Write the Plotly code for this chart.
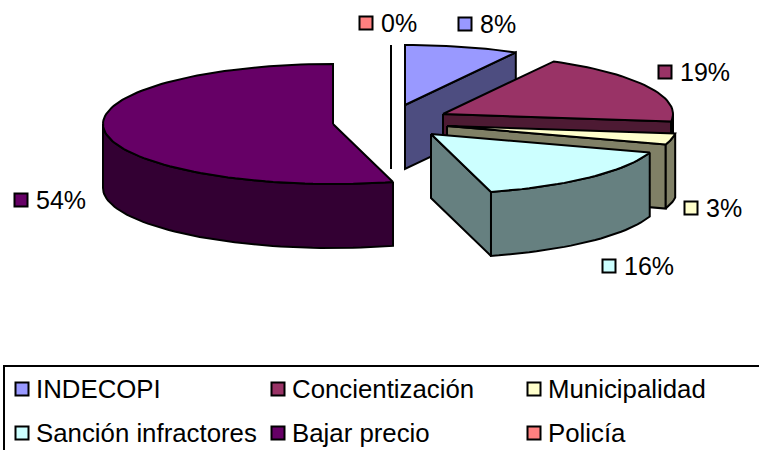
import math
import plotly.graph_objects as go

# ---- data ----
categories = ["INDECOPI", "Concientización", "Municipalidad", "Sanción infractores", "Bajar precio", "Policía"]
percent_values = [8, 19, 3, 15.8, 54.2, 0]

# ---- style ----
top_colors = ["#9999FF", "#993366", "#FFFFCC", "#CCFFFF", "#660066", "#FF8080"]
side_colors = ["#4D4D80", "#4D1A33", "#808066", "#668080", "#330033", "#804040"]
slice_centers = [(405, 105), (443, 114), (447, 126), (431, 134), (333, 124), (391, 105)]
label_anchors = [(465, 24), (665, 72), (691, 208), (609, 266), (21, 200), (366, 23)]
legend_anchors = [(22, 389), (278, 389), (534, 389), (22, 433), (278, 433), (534, 433)]
RX, RY, DEPTH = 230, 60, 64
FONT = "Liberation Sans, Arial, sans-serif"
LABEL_SIZE = 25
LEGEND_SIZE = 25.8
LINE = 2


def rim(center, deg):
    a = math.radians(deg)
    return center[0] + RX * math.sin(a), center[1] - RY * math.cos(a)


def arc(center, a0, a1):
    n = max(2, int(abs(a1 - a0) / 2) + 1)
    return [rim(center, a0 + (a1 - a0) * i / (n - 1)) for i in range(n)]


def add_poly(fig, pts, color, name):
    xs = [p[0] for p in pts] + [pts[0][0]]
    ys = [p[1] for p in pts] + [pts[0][1]]
    fig.add_trace(go.Scatter(x=xs, y=ys, mode="lines", fill="toself", fillcolor=color,
                             line=dict(color="black", width=LINE), name=name,
                             showlegend=False, hoverinfo="name"))


def extrude(pts):
    return pts + [(x, y + DEPTH) for x, y in reversed(pts)]


fig = go.Figure()

total = sum(percent_values)
starts = []
acc = 0
for v in percent_values:
    starts.append(acc / total * 360)
    acc += v

draw_order = [5, 0, 1, 2, 3, 4]
for i in draw_order:
    c = slice_centers[i]
    a0 = starts[i]
    a1 = a0 + percent_values[i] / total * 360
    name = categories[i]
    if -math.sin(math.radians(a0)) > 1e-6:
        add_poly(fig, extrude([c, rim(c, a0)]), side_colors[i], name)
    if math.sin(math.radians(a1)) > -1e-6:
        add_poly(fig, extrude([c, rim(c, a1)]), side_colors[i], name)
    lo, hi = max(a0, 90), min(a1, 270)
    if hi > lo:
        add_poly(fig, extrude(arc(c, lo, hi)), side_colors[i], name)
    add_poly(fig, [c] + arc(c, a0, a1), top_colors[i], name)

# data-label keys and legend keys
key_x = [p[0] for p in label_anchors] + [p[0] for p in legend_anchors]
key_y = [p[1] for p in label_anchors] + [p[1] for p in legend_anchors]
fig.add_trace(go.Scatter(x=key_x, y=key_y, mode="markers", showlegend=False, hoverinfo="skip",
                         marker=dict(symbol="square", size=13, color=top_colors + top_colors,
                                     line=dict(color="black", width=2))))

for (x, y), v in zip(label_anchors, percent_values):
    fig.add_annotation(x=x + 14, y=y, text=f"{round(v / total * 100)}%", showarrow=False,
                       xanchor="left", yanchor="middle",
                       font=dict(family=FONT, size=LABEL_SIZE, color="black"), borderpad=0)
for (x, y), name in zip(legend_anchors, categories):
    fig.add_annotation(x=x + 13, y=y, text=name, showarrow=False, xanchor="left", yanchor="middle",
                       font=dict(family=FONT, size=LEGEND_SIZE, color="black"), borderpad=0)

fig.add_shape(type="rect", x0=4, y0=366, x1=790, y1=480, line=dict(color="black", width=2),
              fillcolor="rgba(0,0,0,0)", layer="below")

fig.update_layout(width=759, height=450, margin=dict(l=0, r=0, t=0, b=0),
                  paper_bgcolor="white", plot_bgcolor="white", showlegend=False,
                  xaxis=dict(range=[0, 759], visible=False, fixedrange=True),
                  yaxis=dict(range=[450, 0], visible=False, fixedrange=True))
fig.write_html("out.html", config={"displayModeBar": False},
               post_script="document.body.style.margin='0';document.body.style.overflow='hidden';")
